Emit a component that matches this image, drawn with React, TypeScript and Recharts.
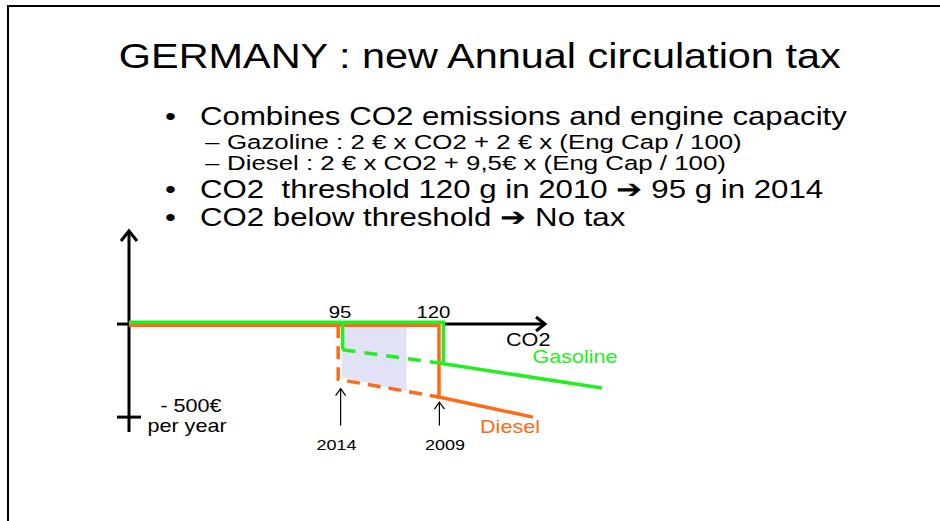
import React from "react";
import { ComposedChart, Line, Area, XAxis, YAxis, ReferenceLine, ReferenceDot } from "recharts";

const GREEN = "#22ee22";
const ORANGE = "#ff6a14";
const SHADE = "#e2e2f6";
const FONT = '"Liberation Sans", Arial, sans-serif';
const SX = 1.2; // the slide is stretched sideways

// x = CO2 (g/km), y = annual tax shown downwards (€)
const dieselOld = [
  { co2: 42, tax: -7 },
  { co2: 119.5, tax: -7 },
  { co2: 119.5, tax: -392 },
  { co2: 143, tax: -500 },
];
const dieselNew = [
  { co2: 94.3, tax: -7 },
  { co2: 94.3, tax: -297 },
  { co2: 119.5, tax: -392 },
];
const gasOld = [
  { co2: 42, tax: 10 },
  { co2: 120.6, tax: 10 },
  { co2: 120.6, tax: -213 },
  { co2: 160.2, tax: -344 },
];
const gasNewDrop = [
  { co2: 95.4, tax: 10 },
  { co2: 95.4, tax: -138 },
];
const gasNewSlope = [
  { co2: 95.4, tax: -138 },
  { co2: 120.6, tax: -213 },
];
const gapZone = [
  { co2: 95.2, tax: -284 },
  { co2: 111.4, tax: -361 },
];

const bullets = [
  "Combines CO2 emissions and engine capacity",
  "CO2  threshold 120 g in 2010 \u2794 95 g in 2014",
  "CO2 below threshold \u2794 No tax",
];
const subBullets = [
  "Gazoline : 2 \u20ac x CO2 + 2 \u20ac x (Eng Cap / 100)",
  "Diesel : 2 \u20ac x CO2 + 9,5\u20ac x (Eng Cap / 100)",
];

const arrowShape = (head: number, half: number, sw: number) => (p: any) => {
  const { x1, y1, x2, y2 } = p;
  const len = Math.hypot(x2 - x1, y2 - y1) || 1;
  const ux = (x2 - x1) / len;
  const uy = (y2 - y1) / len;
  const bx = x2 - ux * head;
  const by = y2 - uy * head;
  return (
    <g>
      <line x1={x1} y1={y1} x2={x2} y2={y2} stroke="#000" strokeWidth={sw} />
      <polyline
        points={`${bx - uy * half},${by + ux * half} ${x2},${y2} ${bx + uy * half},${by - ux * half}`}
        fill="none"
        stroke="#000"
        strokeWidth={sw}
      />
    </g>
  );
};

const tag = (text: string, color: string, size: number) => (p: any) => {
  const vb = p.viewBox || { x: 0, y: 0 };
  return (
    <text
      transform={`translate(${vb.x},${vb.y}) scale(${SX},1)`}
      textAnchor="middle"
      dy="0.36em"
      fontSize={size}
      fontFamily={FONT}
      fill={color}
    >
      {text}
    </text>
  );
};

const Line1 = ({ left, top, size, sx = SX, children }: any) => (
  <div
    style={{
      position: "absolute",
      left,
      top,
      fontSize: size,
      lineHeight: 1,
      whiteSpace: "pre",
      transform: `scaleX(${sx})`,
      transformOrigin: "0 0",
    }}
  >
    {children}
  </div>
);

export default function App() {
  const bulletTops = [103, 176, 203.5];
  const subTops = [132, 153];
  return (
    <div style={{ position: "absolute", left: 0, top: 0, width: 940, height: 521, background: "#fff", overflow: "hidden", fontFamily: FONT, color: "#000" }}>
      <div style={{ position: "absolute", left: 7, top: 5, width: 960, height: 540, borderTop: "2px solid #000", borderLeft: "2px solid #000" }} />
      <div style={{ position: "absolute", left: 10, top: 39, width: 940, textAlign: "center", lineHeight: 1 }}>
        <span style={{ display: "inline-block", fontSize: 34.5, transform: `scaleX(${SX})` }}>GERMANY : new Annual circulation tax</span>
      </div>
      {bullets.map((b, i) => (
        <React.Fragment key={b}>
          <Line1 left={165} top={bulletTops[i]} size={26}>{"\u2022"}</Line1>
          <Line1 left={200} top={bulletTops[i]} size={26}>{b}</Line1>
        </React.Fragment>
      ))}
      {subBullets.map((s, i) => (
        <React.Fragment key={s}>
          <Line1 left={205} top={subTops[i]} size={20.5} sx={1.26}>{"\u2013"}</Line1>
          <Line1 left={227} top={subTops[i]} size={20.5} sx={1.26}>{s}</Line1>
        </React.Fragment>
      ))}
      <div style={{ position: "absolute", left: 0, top: 0 }}>
        <ComposedChart width={940} height={521} margin={{ top: 231, right: 307, bottom: 89, left: 117 }}>
          <XAxis type="number" dataKey="co2" domain={[39, 168]} allowDataOverflow hide />
          <YAxis type="number" domain={[-580, 500]} allowDataOverflow hide />
          <Area data={gapZone} dataKey="tax" type="linear" baseValue={0} fill={SHADE} fillOpacity={1} stroke="none" isAnimationActive={false} />
          <ReferenceLine segment={[{ x: 42, y: -580 }, { x: 42, y: 500 }]} ifOverflow="visible" shape={arrowShape(10, 8, 3)} />
          <ReferenceLine segment={[{ x: 39, y: -500 }, { x: 45, y: -500 }]} ifOverflow="visible" stroke="#000" strokeWidth={3} />
          <ReferenceLine segment={[{ x: 39, y: 0 }, { x: 42, y: 0 }]} ifOverflow="visible" stroke="#000" strokeWidth={3} />
          <ReferenceLine segment={[{ x: 120.6, y: 0 }, { x: 146, y: 0 }]} ifOverflow="visible" shape={arrowShape(9, 7, 3)} />
          <ReferenceLine segment={[{ x: 94.9, y: -545 }, { x: 94.9, y: -347 }]} ifOverflow="visible" shape={arrowShape(7, 5, 1.2)} />
          <ReferenceLine segment={[{ x: 119.6, y: -545 }, { x: 119.6, y: -420 }]} ifOverflow="visible" shape={arrowShape(7, 5, 1.2)} />
          <Line data={dieselOld} dataKey="tax" type="linear" stroke={ORANGE} strokeWidth={3.5} dot={false} isAnimationActive={false} />
          <Line data={dieselNew} dataKey="tax" type="linear" stroke={ORANGE} strokeWidth={3.5} strokeDasharray="13 8" dot={false} isAnimationActive={false} />
          <Line data={gasOld} dataKey="tax" type="linear" stroke={GREEN} strokeWidth={3.5} dot={false} isAnimationActive={false} />
          <Line data={gasNewDrop} dataKey="tax" type="linear" stroke={GREEN} strokeWidth={3.5} dot={false} isAnimationActive={false} />
          <Line data={gasNewSlope} dataKey="tax" type="linear" stroke={GREEN} strokeWidth={3.5} strokeDasharray="13 9" dot={false} isAnimationActive={false} />
          <ReferenceDot x={94.75} y={64.5} r={0} ifOverflow="visible" label={tag("95", "#000", 17)} />
          <ReferenceDot x={118.1} y={64.5} r={0} ifOverflow="visible" label={tag("120", "#000", 17)} />
          <ReferenceDot x={141.8} y={-85} r={0} ifOverflow="visible" label={tag("CO2", "#000", 18)} />
          <ReferenceDot x={153.5} y={-173.7} r={0} ifOverflow="visible" label={tag("Gasoline", GREEN, 18)} />
          <ReferenceDot x={137.25} y={-550} r={0} ifOverflow="visible" label={tag("Diesel", ORANGE, 18)} />
          <ReferenceDot x={57.5} y={-440} r={0} ifOverflow="visible" label={tag("- 500\u20ac", "#000", 18)} />
          <ReferenceDot x={56.5} y={-545} r={0} ifOverflow="visible" label={tag("per year", "#000", 18)} />
          <ReferenceDot x={93.9} y={-647} r={0} ifOverflow="visible" label={tag("2014", "#000", 15)} />
          <ReferenceDot x={121} y={-647} r={0} ifOverflow="visible" label={tag("2009", "#000", 15)} />
        </ComposedChart>
      </div>
    </div>
  );
}
